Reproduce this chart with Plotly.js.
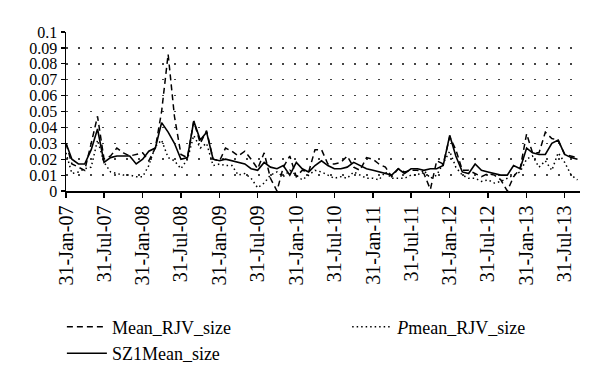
<!DOCTYPE html>
<html>
<head>
<meta charset="utf-8">
<script src="https://cdn.plot.ly/plotly-3.0.1.min.js"></script>
<style>html,body{margin:0;padding:0;background:#fff}#chart{width:600px;height:383px}</style>
</head>
<body>
<div id="chart"></div>
<script>
const dates = [
"2007-01-31","2007-02-28","2007-03-31","2007-04-30","2007-05-31","2007-06-30","2007-07-31","2007-08-31","2007-09-30","2007-10-31","2007-11-30","2007-12-31",
"2008-01-31","2008-02-29","2008-03-31","2008-04-30","2008-05-31","2008-06-30","2008-07-31","2008-08-31","2008-09-30","2008-10-31","2008-11-30","2008-12-31",
"2009-01-31","2009-02-28","2009-03-31","2009-04-30","2009-05-31","2009-06-30","2009-07-31","2009-08-31","2009-09-30","2009-10-31","2009-11-30","2009-12-31",
"2010-01-31","2010-02-28","2010-03-31","2010-04-30","2010-05-31","2010-06-30","2010-07-31","2010-08-31","2010-09-30","2010-10-31","2010-11-30","2010-12-31",
"2011-01-31","2011-02-28","2011-03-31","2011-04-30","2011-05-31","2011-06-30","2011-07-31","2011-08-31","2011-09-30","2011-10-31","2011-11-30","2011-12-31",
"2012-01-31","2012-02-29","2012-03-31","2012-04-30","2012-05-31","2012-06-30","2012-07-31","2012-08-31","2012-09-30","2012-10-31","2012-11-30","2012-12-31",
"2013-01-31","2013-02-28","2013-03-31","2013-04-30","2013-05-31","2013-06-30","2013-07-31","2013-08-31","2013-09-30"
];

const meanRJV = [
0.030,0.017,0.015,0.013,0.030,0.047,0.020,0.022,0.027,0.024,0.022,0.023,
0.024,0.019,0.027,0.050,0.086,0.047,0.023,0.021,0.044,0.030,0.038,0.020,
0.019,0.027,0.025,0.022,0.025,0.020,0.014,0.024,0.008,0.000,0.015,0.022,
0.009,0.013,0.012,0.026,0.026,0.017,0.017,0.018,0.022,0.015,0.013,0.021,
0.020,0.017,0.015,0.009,0.014,0.012,0.013,0.013,0.011,0.001,0.019,0.017,
0.034,0.026,0.013,0.013,0.011,0.009,0.011,0.010,0.007,0.000,0.009,0.014,
0.036,0.024,0.024,0.037,0.033,0.032,0.023,0.022,0.021
];

const sz1Mean = [
0.030,0.020,0.017,0.017,0.026,0.039,0.018,0.021,0.022,0.022,0.022,0.017,
0.020,0.025,0.027,0.043,0.037,0.030,0.020,0.021,0.044,0.032,0.037,0.020,
0.019,0.020,0.019,0.018,0.017,0.014,0.013,0.018,0.015,0.014,0.016,0.010,
0.018,0.014,0.012,0.016,0.019,0.016,0.014,0.014,0.015,0.018,0.016,0.014,
0.013,0.012,0.011,0.010,0.014,0.011,0.014,0.014,0.013,0.014,0.014,0.016,
0.035,0.022,0.012,0.011,0.017,0.013,0.012,0.011,0.010,0.010,0.016,0.014,
0.027,0.024,0.023,0.023,0.030,0.032,0.023,0.021,0.020
];

const pMeanRJV = [
0.024,0.011,0.012,0.014,0.015,0.032,0.018,0.012,0.011,0.010,0.010,0.009,
0.009,0.016,0.028,0.032,0.021,0.019,0.014,0.020,0.035,0.027,0.030,0.016,
0.017,0.016,0.016,0.010,0.011,0.008,0.002,0.005,0.010,0.012,0.009,0.013,
0.010,0.007,0.010,0.013,0.012,0.010,0.008,0.009,0.008,0.012,0.010,0.008,
0.008,0.007,0.012,0.008,0.008,0.008,0.010,0.010,0.013,0.008,0.010,0.018,
0.025,0.015,0.010,0.008,0.008,0.006,0.007,0.005,0.006,0.008,0.010,0.012,
0.020,0.022,0.015,0.019,0.013,0.024,0.018,0.010,0.007
];

const seriesNames = ["Mean_RJV_size", "SZ1Mean_size", "<i>P</i>mean_RJV_size"];

const serif = "Liberation Serif";

const traces = [
  {x: dates, y: meanRJV, name: seriesNames[0], type: "scatter", mode: "lines",
   line: {color: "#000", width: 1.5, dash: "6px,4px"}, legend: "legend"},
  {x: dates, y: sz1Mean, name: seriesNames[1], type: "scatter", mode: "lines",
   line: {color: "#000", width: 1.6}, legend: "legend"},
  {x: dates, y: pMeanRJV, name: seriesNames[2], type: "scatter", mode: "lines",
   line: {color: "#000", width: 1.5, dash: "1.5px,3px"}, legend: "legend2"}
];

const legendBase = {
  orientation: "v", xanchor: "left", y: -0.74, yanchor: "top",
  itemwidth: 40, tracegroupgap: 0,
  font: {family: serif, size: 18, color: "#000"},
  bgcolor: "rgba(0,0,0,0)", traceorder: "normal"
};

const layout = {
  width: 600, height: 383,
  margin: {l: 66, r: 20, t: 32, b: 187},
  paper_bgcolor: "#fff", plot_bgcolor: "#fff",
  font: {family: serif, color: "#000", size: 18},
  showlegend: true,
  legend: Object.assign({}, legendBase, {x: -0.008}),
  legend2: Object.assign({}, legendBase, {x: 0.547}),
  xaxis: {
    type: "date",
    range: ["2007-01-31", "2013-10-12"],
    tick0: "2007-01-31", dtick: "M6", tickformat: "%d-%b-%y",
    tickangle: -90,
    ticks: "outside", ticklen: 5, tickwidth: 1.2, tickcolor: "#000",
    showline: true, linecolor: "#000", linewidth: 1.5,
    showgrid: false, zeroline: false,
    tickfont: {family: serif, size: 20, color: "#000"}
  },
  yaxis: {
    range: [0, 0.1], dtick: 0.01, tick0: 0,
    ticks: "outside", ticklen: 4, tickwidth: 1.2, tickcolor: "#000",
    showline: true, linecolor: "#000", linewidth: 1.5,
    showgrid: true, gridcolor: "#444", gridwidth: 1.5, griddash: "1.5px,10.5px",
    zeroline: false,
    tickfont: {family: serif, size: 16, color: "#000"}
  }
};

Plotly.newPlot("chart", traces, layout, {displayModeBar: false, staticPlot: true});
</script>
</body>
</html>
